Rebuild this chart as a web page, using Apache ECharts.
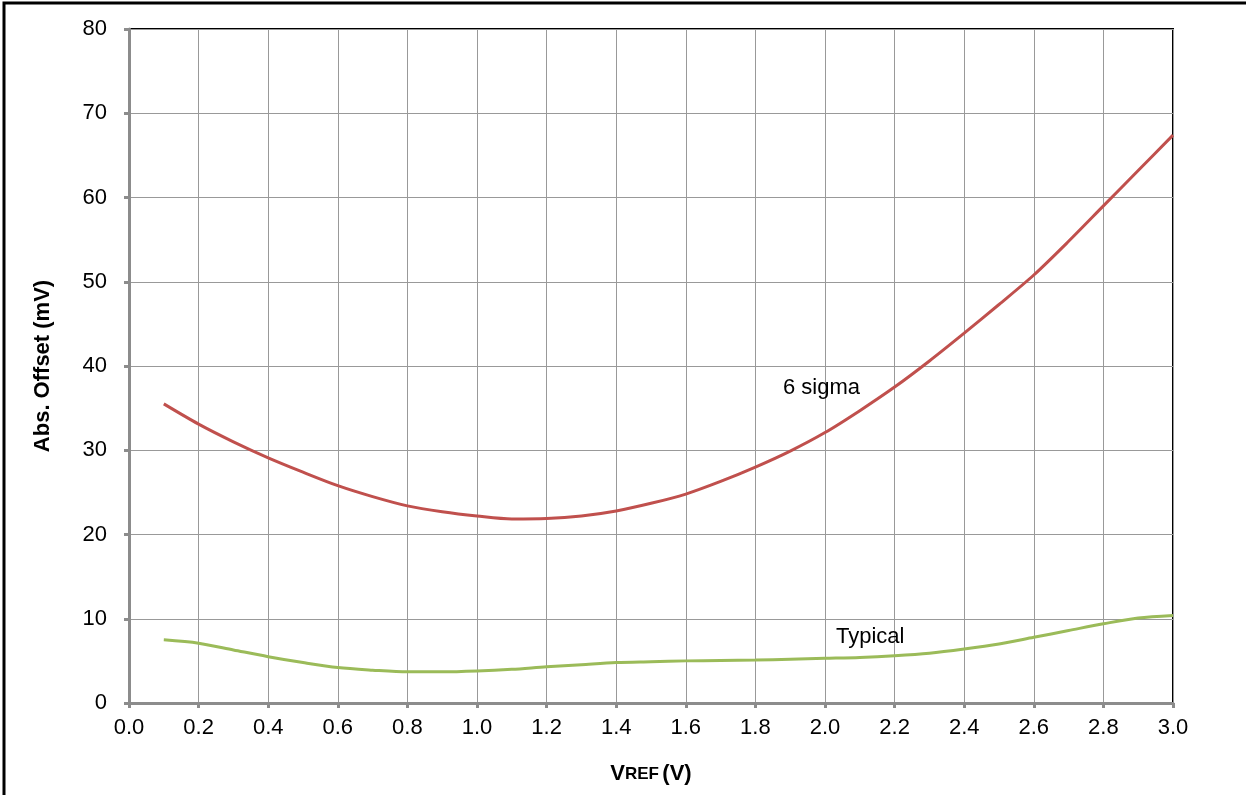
<!DOCTYPE html>
<html><head><meta charset="utf-8">
<script src="https://cdn.jsdelivr.net/npm/echarts@6/dist/echarts.min.js"></script>
<style>html,body{margin:0;padding:0;background:#fff}#c{width:1246px;height:795px}</style>
</head><body><div id="c"></div>
<script>
const xValues = [0.1,0.2,0.3,0.4,0.5,0.6,0.7,0.8,0.9,1.0,1.1,1.2,1.3,1.4,1.5,1.6,1.7,1.8,1.9,2.0,2.1,2.2,2.3,2.4,2.5,2.6,2.7,2.8,2.9,3.0];
const sigma6 = [35.5,33.1,31.0,29.1,27.4,25.8,24.5,23.4,22.7,22.2,21.85,21.9,22.2,22.8,23.7,24.8,26.3,28.0,29.9,32.1,34.7,37.5,40.6,43.9,47.3,50.8,54.8,59.0,63.2,67.4];
const typical = [7.5,7.1,6.3,5.5,4.8,4.2,3.9,3.7,3.7,3.8,4.0,4.3,4.55,4.8,4.9,5.0,5.05,5.1,5.2,5.3,5.4,5.6,5.9,6.4,7.0,7.8,8.6,9.4,10.1,10.4];
const seriesNames = ['6 sigma','Typical'];
const chart = echarts.init(document.getElementById('c'));
const font = 'Liberation Sans, Arial, sans-serif';
chart.setOption({
  animation:false,
  backgroundColor:'#fff',
  grid:{left:129,right:73,top:29,bottom:92,show:true,borderColor:'#000',borderWidth:2},
  graphic:[{type:'rect',shape:{x:4,y:3,width:1300,height:900},style:{fill:'none',stroke:'#000',lineWidth:3},z:100}],
  xAxis:{type:'value',min:0,max:3,interval:0.2,
    name:'{a|V}{b|REF} {a|(V)}',nameLocation:'middle',nameGap:60,
    nameTextStyle:{rich:{a:{fontFamily:font,fontWeight:'bold',fontSize:22,color:'#000'},b:{fontFamily:font,fontWeight:'bold',fontSize:17,color:'#000'}}},
    axisLine:{lineStyle:{color:'#8c8c8c',width:3}},
    axisTick:{show:true,length:5,lineStyle:{color:'#8c8c8c',width:3}},
    axisLabel:{fontFamily:font,fontSize:22,color:'#000',margin:14,formatter:v=>v.toFixed(1)},
    splitLine:{lineStyle:{color:'#999',width:1}}},
  yAxis:{type:'value',min:0,max:80,interval:10,
    name:'Abs. Offset (mV)',nameLocation:'middle',nameGap:75,
    nameTextStyle:{fontFamily:font,fontWeight:'bold',fontSize:22,color:'#000'},
    axisLine:{show:true,lineStyle:{color:'#8c8c8c',width:3}},
    axisTick:{show:true,length:5,lineStyle:{color:'#8c8c8c',width:3}},
    axisLabel:{fontFamily:font,fontSize:22,color:'#000',margin:22},
    splitLine:{lineStyle:{color:'#999',width:1}}},
  series:[
    {name:seriesNames[0],type:'line',smooth:0.3,symbol:'none',data:xValues.map((x,i)=>[x,sigma6[i]]),
     lineStyle:{color:'#C0504D',width:3},
     markPoint:{symbol:'circle',symbolSize:0,data:[{coord:[1.99,37.4],label:{show:true,formatter:seriesNames[0],color:'#000',fontFamily:font,fontSize:22}}]}},
    {name:seriesNames[1],type:'line',smooth:0.3,symbol:'none',data:xValues.map((x,i)=>[x,typical[i]]),
     lineStyle:{color:'#9BBB59',width:3},
     markPoint:{symbol:'circle',symbolSize:0,data:[{coord:[2.13,7.8],label:{show:true,formatter:seriesNames[1],color:'#000',fontFamily:font,fontSize:22}}]}}
  ]
});
</script></body></html>
